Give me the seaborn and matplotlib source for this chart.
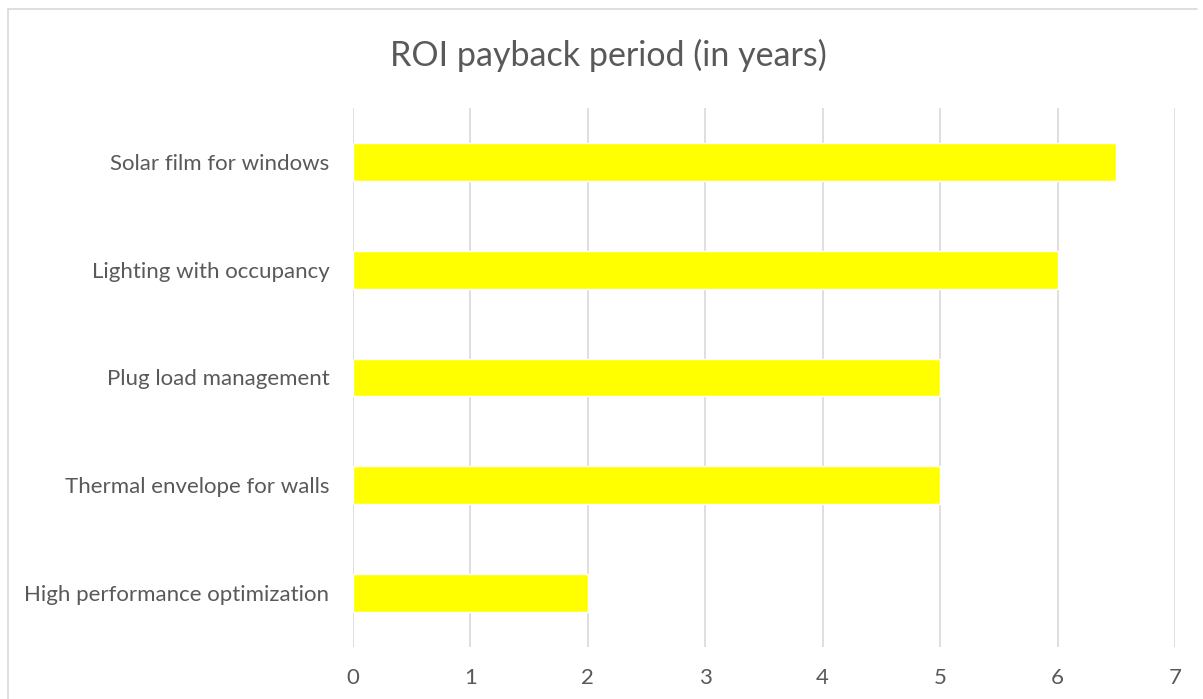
import matplotlib

matplotlib.use("Agg")
import matplotlib.pyplot as plt
import pandas as pd
import seaborn as sns
from matplotlib.lines import Line2D

# datos
MEASURES = [
    "Solar film for windows",
    "Lighting with occupancy",
    "Plug load management",
    "Thermal envelope for walls",
    "High performance optimization",
]
YEARS = [6.5, 6, 5, 5, 2]
XTICKS = [0, 1, 2, 3, 4, 5, 6, 7]

TXT = "#595959"
GRID = "#D9D9D9"

sns.set_theme(style="white")
plt.rcParams["font.family"] = ["Lato", "DejaVu Sans"]

df = pd.DataFrame({"measure": MEASURES, "years": YEARS})

fig = plt.figure(figsize=(12.03, 6.99), dpi=100)
ax = fig.add_axes([0.2934, 0.0744, 0.6833, 0.7711])
sns.barplot(data=df, y="measure", x="years", order=MEASURES, color="#FFFF00",
            width=0.35, saturation=1, ax=ax)
ax.set_xlim(0, 7)
ax.set_ylim(len(MEASURES) - 0.5, -0.5)
ax.set_xticks(XTICKS, [str(t) for t in XTICKS])
ax.xaxis.grid(True, color=GRID, lw=1.2)
ax.set_axisbelow(True)
for sp in ax.spines.values():
    sp.set_visible(False)
ax.tick_params(axis="x", length=0, pad=15, labelsize=16, labelcolor=TXT)
ax.tick_params(axis="y", length=0, pad=17, labelsize=16, labelcolor=TXT)
ax.set_xlabel("")
ax.set_ylabel("")

fig.text(0.5055, 0.921, "ROI payback period (in years)", ha="center", va="center",
         fontsize=24.5, color=TXT)

# marco del gráfico (estilo Excel)
fig.add_artist(Line2D([8 / 1203, 8 / 1203], [0, 1 - 9 / 699], transform=fig.transFigure,
                      color=GRID, lw=1.2))
fig.add_artist(Line2D([8 / 1203, 1197 / 1203], [1 - 9 / 699, 1 - 9 / 699],
                      transform=fig.transFigure, color=GRID, lw=1.2))

fig.savefig("out.png", dpi=100)
